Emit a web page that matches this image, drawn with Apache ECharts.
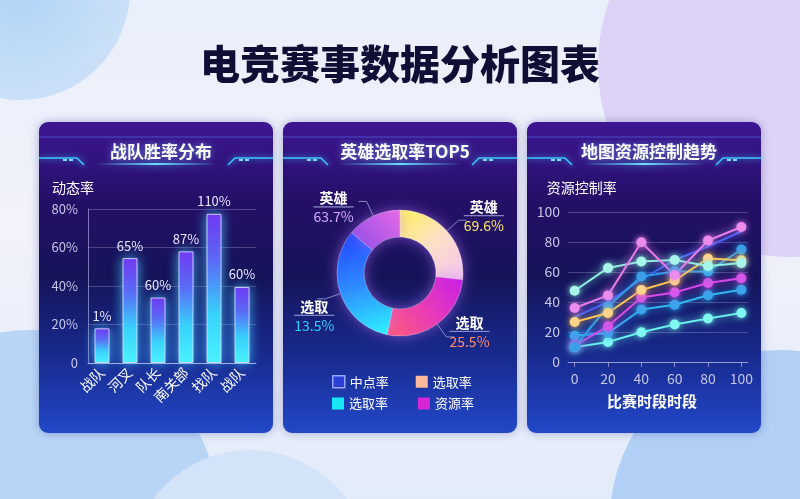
<!DOCTYPE html>
<html>
<head>
<meta charset="utf-8">
<script src="https://cdn.jsdelivr.net/npm/echarts@6/dist/echarts.min.js"></script>
<style>
html,body{margin:0;padding:0;}
#main{width:800px;height:499px;background:linear-gradient(180deg,#e9effb 0%,#f1f2fa 45%,#e2ebfa 100%);}
</style>
</head>
<body>
<div id="main"></div>
<script>
// 战队胜率分布
const teamNames = ['战队', '河叉', '队长', '南关部', '找队', '战队'];
const teamWinRate = [18, 54.5, 34, 58, 77.5, 39.5];
const teamRateLabels = ['1%', '65%', '60%', '87%', '110%', '60%'];

// 英雄选取率TOP5
const heroSliceNames = ['选取率', '资源率', '中点率', '选取率 '];
const heroSliceValues = [26.7, 26.6, 32.8, 13.9];
const heroLabelNames = ['英雄', '选取', '选取', '英雄'];
const heroLabelRates = ['69.6%', '25.5%', '13.5%', '63.7%'];
const heroLegendRow1 = ['中点率', '选取率'];
const heroLegendRow2 = ['选取率 ', '资源率'];

// 地图资源控制趋势
const timeStages = [0, 20, 40, 60, 80, 100];
const resOrchid = [36, 44.4, 79.8, 58, 81, 90];
const resMint = [47.5, 62.7, 67, 68, 64, 66];
const resYellow = [26.7, 32.7, 48, 54.4, 69, 67.8];
const resBlue = [10, 37, 57, 60.4, 60.4, 75];
const resMagenta = [11, 23.8, 43, 46.4, 52.7, 55.8];
const resSky = [17.5, 19.3, 35, 38.2, 44.5, 48.2];
const resCyan = [9.8, 13.3, 19.8, 25, 29, 32.7];
const resDeep = [30, 40, 55, 68, 77, 87];

const FONT = 'Noto Sans CJK SC';
const chart = echarts.init(document.getElementById('main'));

const panels = [
  { x: 39, y: 122, w: 234, h: 311, title: '战队胜率分布' },
  { x: 283, y: 122, w: 234, h: 311, title: '英雄选取率TOP5' },
  { x: 527, y: 122, w: 234, h: 311, title: '地图资源控制趋势' }
];

function lg(x, y, x2, y2, stops) {
  return new echarts.graphic.LinearGradient(x, y, x2, y2,
    stops.map((c, i) => ({ offset: i / (stops.length - 1), color: c })));
}

// 背景圆 + 面板
let graphics = [
  { type: 'circle', shape: { cx: 20, cy: -10, r: 110 }, style: { fill: new echarts.graphic.RadialGradient(0.5, 0.5, 0.5, [{ offset: 0, color: '#b0d4f6' }, { offset: 1, color: '#cbe0f8' }]) } },
  { type: 'circle', shape: { cx: 790, cy: 65, r: 192 }, style: { fill: '#ddd3f6' } },
  { type: 'circle', shape: { cx: 30, cy: 520, r: 190 }, style: { fill: '#b9d5f6' } },
  { type: 'circle', shape: { cx: 250, cy: 570, r: 120 }, style: { fill: '#d3e3f8' } },
  { type: 'circle', shape: { cx: 780, cy: 520, r: 170 }, style: { fill: '#b2d0f6' } }
];
panels.forEach(p => {
  graphics.push({
    type: 'rect', shape: { x: p.x, y: p.y, width: p.w, height: p.h, r: 9 },
    style: { fill: lg(0, 0, 0, 1, ['#3d1693', '#250f68', '#15145a', '#182a8e', '#2248c8']), shadowBlur: 10, shadowColor: 'rgba(40,40,140,0.35)' }
  });
  graphics.push({ type: 'line', shape: { x1: p.x, y1: p.y + 15, x2: p.x + p.w, y2: p.y + 15 }, style: { stroke: 'rgba(90,130,255,0.55)', lineWidth: 1 } });
  graphics.push({ type: 'polyline', shape: { points: [[p.x, p.y + 36], [p.x + 38, p.y + 36], [p.x + 45, p.y + 43]] }, style: { stroke: '#3ec6ff', lineWidth: 1.5, fill: null, shadowBlur: 6, shadowColor: '#3ec6ff' } });
  graphics.push({ type: 'polyline', shape: { points: [[p.x + p.w, p.y + 36], [p.x + p.w - 38, p.y + 36], [p.x + p.w - 45, p.y + 43]] }, style: { stroke: '#3ec6ff', lineWidth: 1.5, fill: null, shadowBlur: 6, shadowColor: '#3ec6ff' } });
  [[24, 28], [30, 34]].forEach(d => {
    graphics.push({ type: 'line', shape: { x1: p.x + d[0], y1: p.y + 38, x2: p.x + d[1], y2: p.y + 38 }, style: { stroke: '#7fd8ff', lineWidth: 2 } });
    graphics.push({ type: 'line', shape: { x1: p.x + p.w - d[1], y1: p.y + 38, x2: p.x + p.w - d[0], y2: p.y + 38 }, style: { stroke: '#7fd8ff', lineWidth: 2 } });
  });
  graphics.push({
    type: 'rect', shape: { x: p.x + 55, y: p.y + 41, width: p.w - 110, height: 2 },
    style: { fill: lg(0, 0, 1, 0, ['rgba(80,200,255,0)', '#6fe0ff', 'rgba(80,200,255,0)']), shadowBlur: 8, shadowColor: '#4fd0ff' }
  });
});

const titles = [{
  text: '电竞赛事数据分析图表', left: 'center', top: 39,
  textStyle: { fontFamily: FONT, fontSize: 40, fontWeight: 900, color: '#0f0f36' }
}].concat(panels.map(p => ({
  text: p.title, left: p.x + p.w / 2, top: p.y + 16, textAlign: 'center',
  textStyle: { fontFamily: FONT, fontSize: 17, fontWeight: 'bold', color: '#ffffff', textShadowBlur: 6, textShadowColor: 'rgba(120,180,255,0.7)' }
})));

const axisText = { color: '#c6c6e6', fontSize: 13, fontFamily: FONT };
const splitLine = { show: true, lineStyle: { color: 'rgba(200,200,240,0.28)', width: 1 } };

function lineSeries(data, color, markColor, opts) {
  return Object.assign({
    type: 'line', xAxisIndex: 1, yAxisIndex: 1, data: data.map((v, i) => [timeStages[i], v]),
    symbol: 'circle', symbolSize: 10, smooth: false,
    lineStyle: { color: color, width: 2, shadowBlur: 8, shadowColor: color },
    itemStyle: { color: markColor || color, shadowBlur: 6, shadowColor: color },
    z: 3
  }, opts || {});
}

// 饼图标签微调（参考图的标签位置）
const heroLabelShift = [[-8, -4], [-10, -5], [22, 17], [0, 6]];

const option = {
  title: titles,
  graphic: graphics,
  textStyle: { fontFamily: FONT },
  grid: [
    { left: 88, top: 209, width: 168, height: 154 },
    { left: 568, top: 212, width: 180, height: 150 }
  ],
  xAxis: [
    {
      gridIndex: 0, type: 'category', data: teamNames,
      axisLine: { lineStyle: { color: 'rgba(210,210,245,0.75)' } },
      axisTick: { show: false },
      axisLabel: { color: '#ffffff', fontSize: 14, rotate: 45, margin: 7, fontFamily: FONT }
    },
    {
      gridIndex: 1, type: 'value', min: -4, max: 104,
      axisLine: { show: true, lineStyle: { color: 'rgba(200,200,240,0.6)' } },
      axisTick: { show: true, customValues: timeStages, length: 5, lineStyle: { color: 'rgba(200,200,240,0.6)' } },
      axisLabel: { customValues: timeStages, color: '#c6c6e6', fontSize: 14, margin: 10 },
      splitLine: { show: false },
      name: '比赛时段时段', nameLocation: 'middle', nameGap: 32,
      nameTextStyle: { color: '#ffffff', fontSize: 15, fontWeight: 'bold', fontFamily: FONT, padding: [0, 12, 0, 0] }
    }
  ],
  yAxis: [
    {
      gridIndex: 0, type: 'value', min: 0, max: 80, interval: 20,
      axisLine: { show: true, lineStyle: { color: 'rgba(190,190,235,0.6)' } },
      axisLabel: Object.assign({ formatter: v => v === 0 ? '0' : v + '%', margin: 10 }, axisText),
      splitLine: splitLine,
      name: '动态率', nameLocation: 'end', nameGap: 14,
      nameTextStyle: { color: '#ffffff', fontSize: 14, fontFamily: FONT, align: 'left', padding: [0, 0, 0, -36] }
    },
    {
      gridIndex: 1, type: 'value', min: 0, max: 100, interval: 20,
      axisLine: { show: false }, axisTick: { show: false },
      axisLabel: Object.assign({ margin: 8 }, axisText, { fontSize: 14 }),
      splitLine: splitLine,
      name: '资源控制率', nameLocation: 'end', nameGap: 17,
      nameTextStyle: { color: '#ffffff', fontSize: 14, fontFamily: FONT, align: 'left', padding: [0, 0, 0, -28] }
    }
  ],
  legend: [
    {
      left: 332, top: 375, padding: 0, itemWidth: 12, itemHeight: 12, itemGap: 27, selectedMode: false, icon: 'rect',
      textStyle: { color: '#ffffff', fontSize: 13, fontFamily: FONT },
      data: [
        { name: heroLegendRow1[0], itemStyle: { color: '#2b3fd6', borderColor: '#98a6ff', borderWidth: 1.5 } },
        { name: heroLegendRow1[1], itemStyle: { color: '#ffb99c', borderWidth: 0 } }
      ]
    },
    {
      left: 332, top: 397, padding: 0, itemWidth: 12, itemHeight: 12, itemGap: 27, selectedMode: false, icon: 'rect',
      textStyle: { color: '#ffffff', fontSize: 13, fontFamily: FONT },
      data: [
        { name: heroLegendRow2[0], itemStyle: { color: '#18e8f4', borderWidth: 0 } },
        { name: heroLegendRow2[1], itemStyle: { color: '#d626d8', borderWidth: 0 } }
      ]
    }
  ],
  series: [
    {
      type: 'bar', xAxisIndex: 0, yAxisIndex: 0, data: teamWinRate, barWidth: 15,
      itemStyle: {
        color: lg(0, 0, 0, 1, ['#7430f2', '#5a6af6', '#38d2fc', '#4cf6ff']),
        borderColor: 'rgba(225,220,255,0.85)', borderWidth: 1,
        shadowBlur: 12, shadowColor: 'rgba(70,200,255,0.85)'
      },
      label: {
        show: true, position: 'top', distance: 6, color: '#e8e6ff', fontSize: 13,
        formatter: p => teamRateLabels[p.dataIndex]
      },
      z: 3
    },
    {
      type: 'pie', center: [400, 273], radius: [36, 63], startAngle: 90, clockwise: true,
      avoidLabelOverlap: false,
      itemStyle: { borderColor: 'rgba(255,255,255,0.5)', borderWidth: 0.6, shadowBlur: 14, shadowColor: 'rgba(190,120,255,0.55)' },
      labelLine: { show: true, length: 16, length2: 8, lineStyle: { color: 'rgba(170,175,225,0.75)', width: 1 } },
      labelLayout: p => ({ dx: heroLabelShift[p.dataIndex][0], dy: heroLabelShift[p.dataIndex][1] }),
      label: {
        show: true, position: 'outside',
        formatter: p => '{n|' + heroLabelNames[p.dataIndex] + '}\n{hr|}\n{c' + p.dataIndex + '|' + heroLabelRates[p.dataIndex] + '}',
        rich: {
          n: { color: '#ffffff', fontSize: 14, fontWeight: 'bold', fontFamily: FONT, padding: [0, 0, 2, 0], align: 'center' },
          hr: { borderColor: 'rgba(170,175,225,0.75)', width: '100%', borderWidth: 0.8, height: 0 },
          c0: { color: '#ffe46a', fontSize: 14, padding: [3, 0, 0, 0] },
          c1: { color: '#ff8a6c', fontSize: 14, padding: [3, 0, 0, 0] },
          c2: { color: '#28d2ff', fontSize: 14, padding: [3, 0, 0, 0] },
          c3: { color: '#d6a8ff', fontSize: 14, padding: [3, 0, 0, 0] }
        }
      },
      data: heroSliceNames.map((n, i) => ({
        name: n, value: heroSliceValues[i],
        itemStyle: {
          color: [
            lg(0, 0, 1, 1, ['#fff35a', '#fde0c8', '#f3c2ee']),
            lg(1, 0, 0, 1, ['#c81ee8', '#e83cb8', '#ff5c78']),
            lg(0.2, 0, 0.8, 1, ['#2244ff', '#2f8cff', '#2cf2ff']),
            lg(0, 1, 1, 0, ['#8a4ce8', '#e86ae6'])
          ][i]
        }
      })),
      z: 3
    },
    lineSeries(resDeep, '#3a5cf4', '#3a5cf4', { symbol: 'none' }),
    lineSeries(resCyan, '#68f0ec', '#7ff8f2'),
    lineSeries(resSky, '#33b6f2', '#3aa4ec'),
    lineSeries(resMagenta, '#d848ea', '#d456ea'),
    lineSeries(resBlue, '#2f9ae8', '#3a9ee8'),
    lineSeries(resYellow, '#ffc450', '#ffd48a'),
    lineSeries(resMint, '#8ef3e2', '#a8f6ea'),
    lineSeries(resOrchid, '#e67ce8', '#e98cec')
  ]
};
chart.setOption(option);
</script>
</body>
</html>
